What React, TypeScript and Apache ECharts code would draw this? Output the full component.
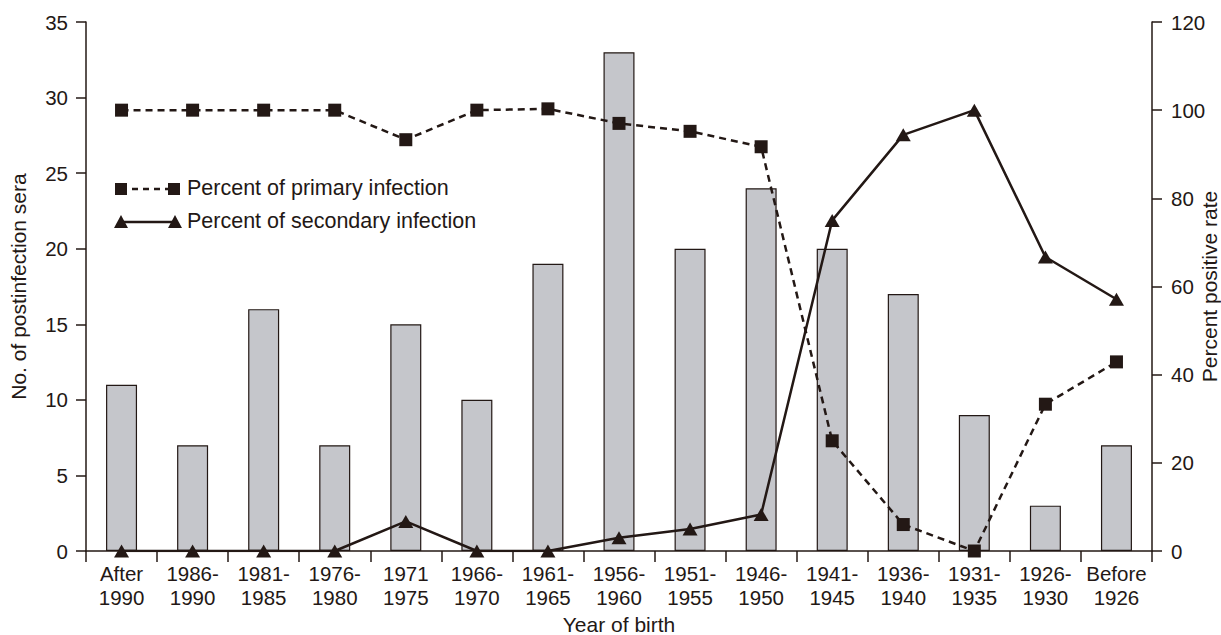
import React, { useEffect, useRef } from "react";
import * as echarts from "echarts";

const categories = [
  "After\n1990", "1986-\n1990", "1981-\n1985", "1976-\n1980", "1971\n1975",
  "1966-\n1970", "1961-\n1965", "1956-\n1960", "1951-\n1955", "1946-\n1950",
  "1941-\n1945", "1936-\n1940", "1931-\n1935", "1926-\n1930", "Before\n1926",
];
const seraCounts = [11, 7, 16, 7, 15, 10, 19, 33, 20, 24, 20, 17, 9, 3, 7];
const primaryPct = [100, 100, 100, 100, 93.3, 100, 100.3, 97, 95.2, 91.7, 25, 6, 0, 33.3, 42.9];
const secondaryPct = [0, 0, 0, 0, 6.7, 0, 0, 3, 5, 8.3, 75, 94.4, 100, 66.7, 57.1];
const leftTicks = { min: 0, max: 35, interval: 5 };
const rightTicks = { min: 0, max: 120, interval: 20 };

const INK = "#231815";
const FONT = "'Liberation Sans', Arial, Helvetica, sans-serif";

export default function App() {
  const ref = useRef<HTMLDivElement>(null);
  useEffect(() => {
    if (!ref.current) return;
    const chart = echarts.init(ref.current, undefined, { renderer: "svg" });
    const axisCommon = {
      axisLine: { show: true, lineStyle: { color: INK, width: 1.5 } },
      axisTick: { show: true, length: 10, lineStyle: { color: INK, width: 1.5 } },
      splitLine: { show: false },
      axisLabel: { color: INK, fontSize: 20.5, fontFamily: FONT },
    };
    chart.setOption({
      animation: false,
      backgroundColor: "#ffffff",
      grid: { left: 86, right: 69, top: 22, bottom: 84, containLabel: false, outerBoundsMode: "none" },
      xAxis: {
        type: "category",
        data: categories,
        boundaryGap: true,
        name: "Year of birth",
        nameLocation: "middle",
        nameGap: 61,
        nameTextStyle: { color: INK, fontSize: 21, fontFamily: FONT },
        ...axisCommon,
        axisTick: { show: true, length: 11, alignWithLabel: false, lineStyle: { color: INK, width: 1.5 } },
        axisLabel: { color: INK, fontSize: 20.5, fontFamily: FONT, lineHeight: 24, margin: 10, interval: 0 },
      },
      yAxis: [
        {
          type: "value",
          ...leftTicks,
          name: "No. of postinfection sera",
          nameLocation: "middle",
          nameGap: 57,
          nameMoveOverlap: false,
          nameTextStyle: { color: INK, fontSize: 21, fontFamily: FONT },
          ...axisCommon,
          axisLabel: { ...axisCommon.axisLabel, margin: 18 },
        },
        {
          type: "value",
          position: "right",
          ...rightTicks,
          name: "Percent positive rate",
          nameLocation: "middle",
          nameGap: 47,
          nameMoveOverlap: false,
          nameRotate: 90,
          nameTextStyle: { color: INK, fontSize: 21, fontFamily: FONT },
          ...axisCommon,
          axisLabel: { ...axisCommon.axisLabel, margin: 19 },
        },
      ],
      series: [
        {
          type: "bar",
          data: seraCounts,
          yAxisIndex: 0,
          barWidth: 31,
          itemStyle: { color: "#c5c6cb", borderColor: INK, borderWidth: 1.2 },
        },
        {
          type: "line",
          data: primaryPct,
          yAxisIndex: 1,
          symbol: "rect",
          symbolSize: 13,
          lineStyle: { color: INK, width: 2.5, type: [7, 5] },
          itemStyle: { color: INK },
        },
        {
          type: "line",
          data: secondaryPct,
          yAxisIndex: 1,
          symbol: "triangle",
          symbolSize: [15, 13],
          lineStyle: { color: INK, width: 2.5, type: "solid" },
          itemStyle: { color: INK },
        },
      ],
      graphic: [
        { type: "line", shape: { x1: 121, y1: 189, x2: 174, y2: 189 }, style: { stroke: INK, lineWidth: 2.5, lineDash: [6, 5] } },
        { type: "rect", shape: { x: 115, y: 183, width: 12, height: 12 }, style: { fill: INK } },
        { type: "rect", shape: { x: 168, y: 183, width: 12, height: 12 }, style: { fill: INK } },
        { type: "text", left: 187, top: 177, style: { text: "Percent of primary infection", fill: INK, fontSize: 21.5, fontFamily: FONT } },
        { type: "line", shape: { x1: 121, y1: 222, x2: 175, y2: 222 }, style: { stroke: INK, lineWidth: 2.5 } },
        { type: "polygon", shape: { points: [[114, 228], [121, 215], [128, 228]] }, style: { fill: INK } },
        { type: "polygon", shape: { points: [[168, 228], [175, 215], [182, 228]] }, style: { fill: INK } },
        { type: "text", left: 187, top: 210, style: { text: "Percent of secondary infection", fill: INK, fontSize: 21.5, fontFamily: FONT } },
      ],
    });
    return () => chart.dispose();
  }, []);
  return <div ref={ref} style={{ width: 1221, height: 635, position: "absolute", left: 0, top: 0 }} />;
}
